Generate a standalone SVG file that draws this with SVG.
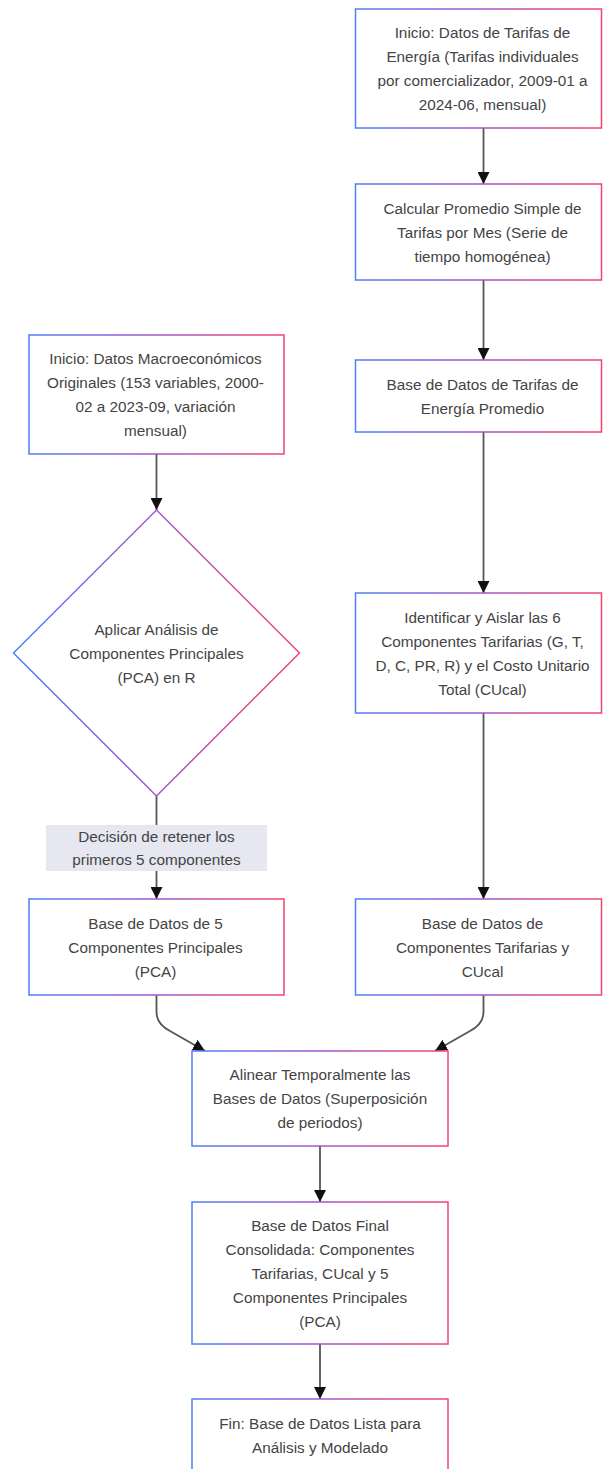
<svg xmlns="http://www.w3.org/2000/svg" width="603" height="1469" viewBox="0 0 603 1469">
<defs>
<linearGradient id="g" x1="0" y1="0" x2="1" y2="0">
<stop offset="0" stop-color="#4f7ef6"/>
<stop offset="0.5" stop-color="#a457cc"/>
<stop offset="1" stop-color="#f1456f"/>
</linearGradient>
<marker id="ah" markerUnits="userSpaceOnUse" markerWidth="13" markerHeight="12" refX="12" refY="6" orient="auto">
<path d="M0,0 L12,6 L0,12 z" fill="#111"/>
</marker>
<style>
.n rect, .n polygon { fill: #ffffff; stroke: url(#g); stroke-width: 1.5; }
.n text, .lbl text { font-family: "Liberation Sans", Arial, sans-serif; font-size: 15.3px; fill: #444; text-anchor: middle; dominant-baseline: central; }
.e path { fill: none; stroke: #555; stroke-width: 1.8; marker-end: url(#ah); }
.lbl rect { fill: #e6e7f0; }
</style>
</defs>
<rect width="603" height="1469" fill="#ffffff"/>
<g id="connectors" class="e">
<path d="M483.5,128 L483.5,184"/>
<path d="M483.5,280 L483.5,360"/>
<path d="M483.5,432 L483.5,593"/>
<path d="M483.5,713 L483.5,899"/>
<path d="M156.5,454 L156.5,510"/>
<path d="M156.5,796 L156.5,899"/>
<path d="M156.5,995 L156.5,1012 Q156.5,1024 170,1031 L205,1051"/>
<path d="M483.5,995 L483.5,1012 Q483.5,1024 470,1031 L435,1051"/>
<path d="M320,1146 L320,1202"/>
<path d="M320,1344 L320,1399"/>
</g>
<g id="lbl-retener" class="lbl">
<rect x="46" y="825" width="221" height="46"/>
<text x="156.5" y="836.5">Decisión de retener los</text>
<text x="156.5" y="859.5">primeros 5 componentes</text>
</g>
<g id="n-tarifas" class="n">
<rect x="355.5" y="9" width="246" height="119"/>
<text x="482.5" y="32.5">Inicio: Datos de Tarifas de</text>
<text x="482.5" y="56.5">Energía (Tarifas individuales</text>
<text x="482.5" y="80.5">por comercializador, 2009-01 a</text>
<text x="482.5" y="104.5">2024-06, mensual)</text>
</g>
<g id="n-promedio" class="n">
<rect x="355.5" y="184" width="246" height="96"/>
<text x="482.5" y="208">Calcular Promedio Simple de</text>
<text x="482.5" y="232">Tarifas por Mes (Serie de</text>
<text x="482.5" y="256">tiempo homogénea)</text>
</g>
<g id="n-base-prom" class="n">
<rect x="355.5" y="360" width="246" height="72"/>
<text x="482.5" y="384">Base de Datos de Tarifas de</text>
<text x="482.5" y="408">Energía Promedio</text>
</g>
<g id="n-identificar" class="n">
<rect x="355.5" y="593" width="246" height="120"/>
<text x="482.5" y="617">Identificar y Aislar las 6</text>
<text x="482.5" y="641">Componentes Tarifarias (G, T,</text>
<text x="482.5" y="665">D, C, PR, R) y el Costo Unitario</text>
<text x="482.5" y="689">Total (CUcal)</text>
</g>
<g id="n-base-comp" class="n">
<rect x="355.5" y="899" width="246" height="96"/>
<text x="482.5" y="923">Base de Datos de</text>
<text x="482.5" y="947">Componentes Tarifarias y</text>
<text x="482.5" y="971">CUcal</text>
</g>
<g id="n-macro" class="n">
<rect x="29" y="335" width="255" height="119"/>
<text x="155.5" y="358.5">Inicio: Datos Macroeconómicos</text>
<text x="155.5" y="382.5">Originales (153 variables, 2000-</text>
<text x="155.5" y="406.5">02 a 2023-09, variación</text>
<text x="155.5" y="430.5">mensual)</text>
</g>
<g id="n-pca" class="n">
<polygon points="156.5,510 299.5,653 156.5,796 13.5,653"/>
<text x="156.5" y="629">Aplicar Análisis de</text>
<text x="156.5" y="653">Componentes Principales</text>
<text x="156.5" y="677">(PCA) en R</text>
</g>
<g id="n-base-pca" class="n">
<rect x="29" y="899" width="255" height="96"/>
<text x="155.5" y="923">Base de Datos de 5</text>
<text x="155.5" y="947">Componentes Principales</text>
<text x="155.5" y="971">(PCA)</text>
</g>
<g id="n-alinear" class="n">
<rect x="192" y="1051" width="256" height="95"/>
<text x="320" y="1074.5">Alinear Temporalmente las</text>
<text x="320" y="1098.5">Bases de Datos (Superposición</text>
<text x="320" y="1122.5">de periodos)</text>
</g>
<g id="n-final" class="n">
<rect x="192" y="1202" width="256" height="142"/>
<text x="320" y="1225">Base de Datos Final</text>
<text x="320" y="1249">Consolidada: Componentes</text>
<text x="320" y="1273">Tarifarias, CUcal y 5</text>
<text x="320" y="1297">Componentes Principales</text>
<text x="320" y="1321">(PCA)</text>
</g>
<g id="n-fin" class="n">
<rect x="192" y="1399" width="256" height="72"/>
<text x="320" y="1423">Fin: Base de Datos Lista para</text>
<text x="320" y="1447">Análisis y Modelado</text>
</g>
</svg>
